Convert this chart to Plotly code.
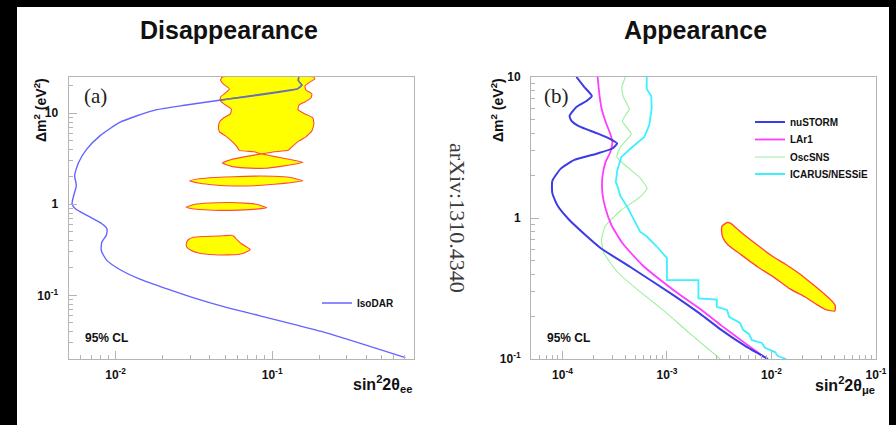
import plotly.graph_objects as go

# ---------------- data ----------------
# Panel (a): IsoDAR 95% CL curve
isodar_x = [0.148, 0.147, 0.155, 0.145, 0.046, 0.0283, 0.0174, 0.0107, 0.00797, 0.00656,
            0.00581, 0.00547, 0.00561, 0.0054, 0.00527, 0.00553, 0.00656, 0.00817, 0.00879,
            0.0087, 0.00817, 0.0081, 0.00879, 0.0107, 0.0143, 0.0211, 0.0312, 0.0503,
            0.0826, 0.219, 0.71]
isodar_y = [25, 22.8, 20.4, 18.5, 13.9, 12.3, 10.7, 7.97, 5.68, 4.06,
            2.90, 2.07, 1.61, 1.25, 1.01, 0.893, 0.754, 0.611, 0.538,
            0.455, 0.385, 0.311, 0.242, 0.191, 0.1505, 0.1184, 0.0944, 0.0742,
            0.0599, 0.039, 0.0207]

# Panel (a): allowed regions (yellow islands)
reg1_x = [0.0481, 0.0468, 0.0489, 0.0533, 0.0503, 0.0468, 0.0468, 0.0503, 0.0549, 0.0541,
          0.0489, 0.0461, 0.0454, 0.0461, 0.0503, 0.0549, 0.0591, 0.0617, 0.0769, 0.0851,
          0.103, 0.1264, 0.136, 0.1484, 0.1644, 0.1795, 0.1848, 0.182, 0.162, 0.1463,
          0.1484, 0.162, 0.1769, 0.1795, 0.1644, 0.162, 0.1742, 0.1875, 0.1848]
reg1_y = [25, 23.2, 20.9, 18.5, 16.7, 15.1, 13.6, 12.3, 11.1, 9.83,
          8.87, 8.03, 7.08, 6.24, 5.64, 4.97, 4.38, 3.91, 3.77, 3.58,
          3.77, 3.91, 4.38, 4.97, 5.50, 6.40, 7.63, 8.87, 9.83, 10.9,
          12.3, 13.3, 14.7, 16.3, 18.0, 19.9, 22.0, 23.8, 25]
reg2_x = [0.0481, 0.0549, 0.0664, 0.078, 0.0851, 0.0957, 0.114, 0.138, 0.1574, 0.138,
          0.114, 0.0903, 0.0664, 0.0549]
reg2_y = [2.85, 3.11, 3.32, 3.49, 3.58, 3.44, 3.24, 3.04, 2.89, 2.75,
          2.61, 2.49, 2.51, 2.61]
reg3_x = [0.0297, 0.0344, 0.0428, 0.0574, 0.0769, 0.103, 0.128, 0.1574, 0.128, 0.103,
          0.0769, 0.0574, 0.0428, 0.0344]
reg3_y = [1.81, 1.905, 1.97, 2.01, 2.04, 2.03, 1.98, 1.81, 1.72, 1.66,
          1.60, 1.59, 1.63, 1.70]
reg4_x = [0.0282, 0.032, 0.0398, 0.0533, 0.0664, 0.0791, 0.0923, 0.0791, 0.0617, 0.0461,
          0.0344, 0.0297]
reg4_y = [0.931, 1.0, 1.033, 1.045, 1.03, 1.0, 0.92, 0.886, 0.864, 0.857,
          0.875, 0.904]
reg5_x = [0.0283, 0.0291, 0.0315, 0.037, 0.0461, 0.0549, 0.0569, 0.06, 0.0636, 0.0684,
          0.0725, 0.0674, 0.0617, 0.0518, 0.0428, 0.0344, 0.0302, 0.0284]
reg5_y = [0.369, 0.408, 0.434, 0.443, 0.449, 0.457, 0.446, 0.403, 0.369, 0.342,
          0.319, 0.296, 0.283, 0.278, 0.279, 0.290, 0.313, 0.342]

# Panel (b): appearance sensitivities
nustorm_x = [1.36e-4, 1.62e-4, 1.91e-4, 1.70e-4, 1.36e-4, 1.17e-4, 1.22e-4, 1.45e-4, 2.16e-4,
             2.87e-4, 3.33e-4, 3.00e-4, 2.16e-4, 1.30e-4, 0.96e-4, 0.80e-4, 0.80e-4, 0.90e-4,
             1.14e-4, 1.70e-4, 2.31e-4, 4.46e-4, 1.15e-3, 2.08e-3, 3.23e-3, 5.59e-3, 9.26e-3]
nustorm_y = [10, 8.49, 7.33, 6.76, 6.13, 5.29, 4.88, 4.46, 3.98,
             3.63, 3.38, 3.11, 2.87, 2.58, 2.23, 1.83, 1.50, 1.22,
             0.984, 0.745, 0.613, 0.449, 0.284, 0.209, 0.163, 0.124, 0.1]
lar1_x = [2.17e-4, 2.26e-4, 2.36e-4, 2.57e-4, 2.87e-4, 3.0e-4, 2.87e-4, 2.57e-4, 2.41e-4,
          2.41e-4, 2.57e-4, 2.94e-4, 3.74e-4, 5.8e-4, 1.15e-3, 2.08e-3, 3.37e-3, 5.71e-3, 9.06e-3]
lar1_y = [10, 7.45, 6.03, 4.88, 3.94, 3.46, 2.94, 2.46, 1.95,
          1.50, 1.18, 0.892, 0.665, 0.464, 0.309, 0.226, 0.171, 0.128, 0.1]
oscsns_x = [4.0e-4, 3.7e-4, 3.82e-4, 4.36e-4, 3.74e-4, 4.56e-4, 3.58e-4, 3.31e-4, 4.17e-4,
            5.55e-4, 6.44e-4, 5.55e-4, 3.66e-4, 2.57e-4, 2.36e-4, 2.49e-4, 3.35e-4, 5.55e-4,
            9.62e-4, 1.60e-3, 3.23e-3]
oscsns_y = [10, 8.49, 7.22, 5.93, 4.88, 3.94, 3.19, 2.71, 2.30,
            1.92, 1.62, 1.41, 1.14, 0.878, 0.698, 0.565, 0.414, 0.299,
            0.216, 0.155, 0.1]
icarus_x = [6.4e-4, 6.4e-4, 7.07e-4, 7.15e-4, 6.77e-4, 6.07e-4, 4.66e-4, 3.66e-4, 3.35e-4,
            3.24e-4, 3.35e-4, 3.58e-4, 4.17e-4, 4.66e-4, 5.2e-4, 5.55e-4, 6.34e-4, 7.9e-4,
            1.0e-3, 1.0e-3, 2.0e-3, 2.0e-3, 3.0e-3, 3.0e-3, 3.76e-3, 3.93e-3, 5.0e-3, 5.35e-3,
            6.1e-3, 6.5e-3, 8.1e-3, 8.67e-3, 1.08e-2, 1.15e-2, 1.38e-2]
icarus_y = [10, 8.22, 7.33, 6.03, 4.57, 3.75, 3.19, 2.71, 2.19,
            1.80, 1.69, 1.43, 1.20, 1.02, 0.892, 0.796, 0.745, 0.633,
            0.52, 0.363, 0.363, 0.269, 0.264, 0.234, 0.223, 0.199, 0.18, 0.161,
            0.150, 0.136, 0.130, 0.120, 0.112, 0.105, 0.1]
# Panel (b): allowed region (ellipse)
ell_x = [3.76e-3, 3.37e-3, 3.33e-3, 3.44e-3, 3.84e-3, 5.0e-3, 7.27e-3, 1.08e-2, 1.50e-2,
         2.14e-2, 2.72e-2, 3.31e-2, 4.04e-2, 4.08e-2, 3.86e-2, 3.24e-2, 2.60e-2, 1.87e-2,
         1.35e-2, 1.03e-2, 7.43e-3, 5.35e-3, 4.48e-3, 4.11e-3]
ell_y = [0.929, 0.878, 0.809, 0.721, 0.644, 0.556, 0.453, 0.375, 0.314,
         0.273, 0.243, 0.224, 0.219, 0.238, 0.254, 0.287, 0.329, 0.401,
         0.472, 0.533, 0.638, 0.770, 0.863, 0.914]

# Tick labels
a_xticks = [0.01, 0.1]
a_xlabels = ["10<sup>-2</sup>", "10<sup>-1</sup>"]
a_yticks = [0.1, 1, 10]
a_ylabels = ["10<sup>-1</sup>", "1", "10"]
b_xticks = [1e-4, 1e-3, 1e-2, 1e-1]
b_xlabels = ["10<sup>-4</sup>", "10<sup>-3</sup>", "10<sup>-2</sup>", "10<sup>-1</sup>"]
b_yticks = [0.1, 1, 10]
b_ylabels = ["10<sup>-1</sup>", "1", "10"]

# ---------------- styling ----------------
W, H = 896, 425
SANS = "Liberation Sans, Arial, sans-serif"
SERIF = "Liberation Serif, Times New Roman, serif"
INK = "#111111"
FRAME = "#b4b4b4"
ISO = "#6464ff"
NUS = "#3c3ce6"
LAR = "#ff3cff"
OSC = "#9af09a"
ICA = "#3cf0ff"
FILL = "#ffff00"
EDGE = "#ff4a3a"


def pxx(x):
    return x / W


def pyy(y):
    return 1 - y / H


fig = go.Figure()

# panel (a) fills
for rx, ry in [(reg1_x, reg1_y), (reg2_x, reg2_y), (reg3_x, reg3_y), (reg4_x, reg4_y), (reg5_x, reg5_y)]:
    fig.add_trace(go.Scatter(x=rx + rx[:1], y=ry + ry[:1], mode="lines", fill="toself",
                             fillcolor=FILL, line=dict(color=EDGE, width=1.1, shape="spline", smoothing=0.4),
                             hoverinfo="skip", showlegend=False, xaxis="x", yaxis="y"))
fig.add_trace(go.Scatter(x=isodar_x, y=isodar_y, mode="lines", name="IsoDAR",
                         line=dict(color=ISO, width=1.4, shape="spline", smoothing=0.6),
                         xaxis="x", yaxis="y", legend="legend"))
fig.add_trace(go.Scatter(x=isodar_x[:5], y=isodar_y[:5], mode="lines",
                         line=dict(color="#6a7894", width=1.4),
                         showlegend=False, hoverinfo="skip", xaxis="x", yaxis="y"))

# panel (b)
fig.add_trace(go.Scatter(x=ell_x + ell_x[:1], y=ell_y + ell_y[:1], mode="lines", fill="toself",
                         fillcolor=FILL, line=dict(color=EDGE, width=1.4, shape="spline", smoothing=0.4),
                         hoverinfo="skip", showlegend=False, xaxis="x2", yaxis="y2"))
fig.add_trace(go.Scatter(x=oscsns_x, y=oscsns_y, mode="lines", name="OscSNS",
                         line=dict(color=OSC, width=1.1, shape="spline", smoothing=0.4),
                         xaxis="x2", yaxis="y2", legend="legend4"))
fig.add_trace(go.Scatter(x=icarus_x, y=icarus_y, mode="lines", name="ICARUS/NESSiE",
                         line=dict(color=ICA, width=1.8),
                         xaxis="x2", yaxis="y2", legend="legend5"))
fig.add_trace(go.Scatter(x=lar1_x, y=lar1_y, mode="lines", name="LAr1",
                         line=dict(color=LAR, width=1.8, shape="spline", smoothing=0.5),
                         xaxis="x2", yaxis="y2", legend="legend3"))
fig.add_trace(go.Scatter(x=nustorm_x, y=nustorm_y, mode="lines", name="nuSTORM",
                         line=dict(color=NUS, width=2.0, shape="spline", smoothing=0.5),
                         xaxis="x2", yaxis="y2", legend="legend2"))


def minor_vals(e0, e1):
    return [m * 10.0 ** e for e in range(e0, e1) for m in range(2, 10)]


def axis(domain, rng, tv, tt, minor, anchor, standoff):
    return dict(type="log", domain=domain, range=rng, anchor=anchor,
                showline=True, linecolor=FRAME, linewidth=1, mirror=True,
                ticks="inside", ticklen=8, tickwidth=1, tickcolor=FRAME,
                tickmode="array", tickvals=tv, ticktext=tt,
                minor=dict(tickmode="array", tickvals=minor, ticks="inside", ticklen=4,
                           tickcolor=FRAME, tickwidth=1, showgrid=False),
                showgrid=False, zeroline=False, ticklabelstandoff=standoff,
                automargin=False,
                tickfont=dict(family=SANS, size=12, color=INK, weight="bold"))


def leg(x, y_item):
    return dict(x=pxx(x), y=pyy(y_item - 12), xanchor="left", yanchor="top",
                bgcolor="rgba(0,0,0,0)", itemwidth=30,
                font=dict(family=SANS, size=10, color=INK, weight="bold"))


A_X = [68.5 / W, 413.5 / W]
B_X = [531 / W, 876 / W]
Y_D = [1 - 359 / H, 1 - 77 / H]

fig.update_layout(
    width=W, height=H, margin=dict(l=0, r=0, t=0, b=0, pad=0, autoexpand=False),
    paper_bgcolor="#000000", plot_bgcolor="#ffffff",
    xaxis=axis(A_X, [-2.30103, -0.09691], a_xticks, a_xlabels, minor_vals(-3, 0), "y", 5),
    yaxis=axis(Y_D, [-1.69897, 1.39794], a_yticks, a_ylabels, minor_vals(-2, 2), "x", 7),
    xaxis2=axis(B_X, [-4.30103, -1.0], b_xticks, b_xlabels, minor_vals(-5, -1), "y2", 5),
    yaxis2=axis(Y_D, [-1.0, 1.0], b_yticks, b_ylabels, minor_vals(-1, 1), "x2", 7),
    legend=leg(317, 300.5),
    legend2=leg(750, 119.5),
    legend3=leg(750, 137),
    legend4=leg(750, 154.5),
    legend5=leg(750, 171.5),
    shapes=[dict(type="rect", xref="paper", yref="paper", x0=17 / W, x1=889 / W, y0=0, y1=pyy(7),
                 fillcolor="#ffffff", line=dict(width=0), layer="below")],
)

ann = []


def text(x, y, s, size, family=SANS, bold=False, color=INK, angle=0, xanchor="center"):
    ann.append(dict(x=pxx(x), y=pyy(y), xref="paper", yref="paper", text=s, showarrow=False,
                    xanchor=xanchor, yanchor="middle", textangle=angle,
                    font=dict(family=family, size=size, color=color, weight="bold" if bold else "normal")))


text(229, 30, "Disappearance", 25, bold=True)
text(695, 30, "Appearance", 25, bold=True)
text(95.5, 96, "(a)", 21, family=SERIF, color="#222222")
text(556, 96, "(b)", 21, family=SERIF, color="#222222")
text(106, 338, "95% CL", 12, bold=True)
text(568.5, 338, "95% CL", 12, bold=True)
text(40, 110, "Δm<sup>2</sup> (eV<sup>2</sup>)", 14, bold=True, angle=-90)
text(497, 110, "Δm<sup>2</sup> (eV<sup>2</sup>)", 14, bold=True, angle=-90)
text(414, 384, "sin<sup>2</sup>2θ<sub>ee</sub>", 16, bold=True, xanchor="right")
text(877, 385, "sin<sup>2</sup>2θ<sub>μe</sub>", 16, bold=True, xanchor="right")
text(458, 218, "arXiv:1310.4340", 22, family=SERIF, color="#3a3a3a", angle=90)
fig.update_layout(annotations=ann)

fig.write_html("out.html")
